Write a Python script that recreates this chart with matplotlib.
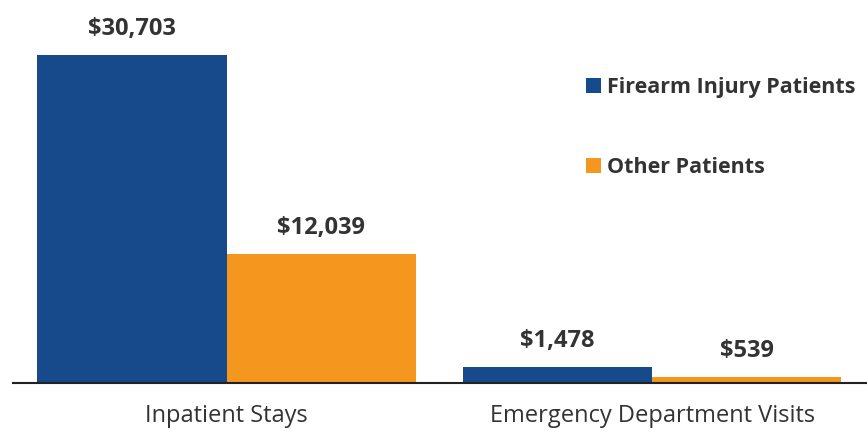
import matplotlib.pyplot as plt
import numpy as np

categories = ["Inpatient Stays", "Emergency Department Visits"]
firearm = [30703, 1478]
other = [12039, 539]
series_names = ["Firearm Injury Patients", "Other Patients"]

BLUE = "#174a8a"
ORANGE = "#f5961e"
TEXT = "#333333"

plt.rcParams["font.family"] = ["Open Sans", "DejaVu Sans"]

fig = plt.figure(figsize=(8.67, 4.4), dpi=100)
ax = fig.add_axes([13 / 867, 1 - 383 / 440, 1 - 13 / 867, 383 / 440])

x = np.arange(len(categories))
w = 0.445
b1 = ax.bar(x - w / 2, firearm, w, color=BLUE, label=series_names[0])
b2 = ax.bar(x + w / 2, other, w, color=ORANGE, label=series_names[1])

for bars in (b1, b2):
    for rect in bars:
        h = rect.get_height()
        ax.annotate(f"${h:,.0f}", (rect.get_x() + rect.get_width() / 2, h),
                    xytext=(0, 10), textcoords="offset points",
                    ha="center", va="bottom", fontsize=17, fontweight="bold",
                    color=TEXT)

ax.set_xlim(-0.502, 1.505)
ax.set_ylim(0, 30703 * 383 / 328)
ax.set_xticks(x)
ax.set_xticklabels(categories, fontsize=17, color=TEXT)
ax.tick_params(axis="x", length=0, pad=15)
ax.set_yticks([])
for s in ["top", "right", "left"]:
    ax.spines[s].set_visible(False)
ax.spines["bottom"].set_color("#222222")
ax.spines["bottom"].set_linewidth(1.5)

leg = ax.legend(loc="upper left", bbox_to_anchor=(0.648, 0.85), frameon=False,
                handlelength=0.7, handleheight=0.7, handletextpad=0.3,
                labelspacing=2.75, prop={"size": 15.5, "weight": "bold"})
for t in leg.get_texts():
    t.set_color(TEXT)

fig.savefig("out.png", dpi=100)
